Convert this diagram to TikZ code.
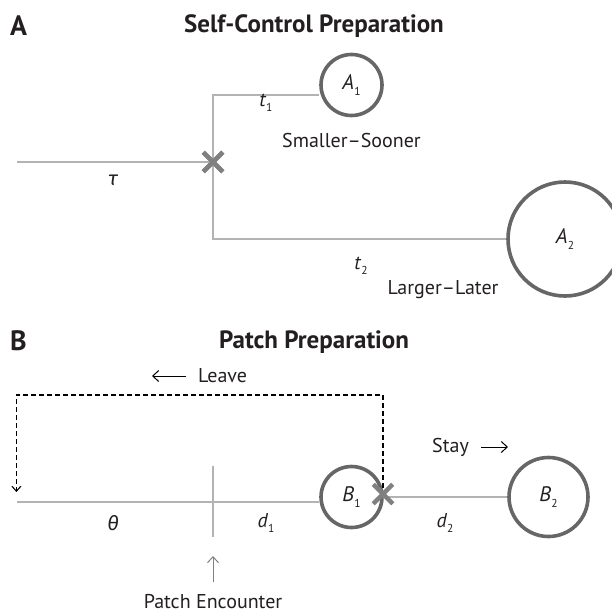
\documentclass[tikz,border=0pt]{standalone}
\usepackage{fontspec}
\setmainfont{PT Sans}
\newfontfamily\greekf{Fira Sans}
\usetikzlibrary{shapes.misc,arrows.meta}
\definecolor{linegray}{HTML}{B3B3B3}
\definecolor{circgray}{HTML}{666666}
\definecolor{xgray}{HTML}{808080}
\definecolor{ink}{HTML}{231F20}
\newcommand\lbl[2]{{\itshape #1}\kern0.5pt\raisebox{-0.55ex}{\fontsize{11.5}{11.5}\selectfont #2}}
\tikzset{
  x=1pt, y=-1pt,
  thinline/.style={draw=linegray, line width=2pt},
  choice/.style={circle, draw=circgray, line width=3.6pt, inner sep=0pt, text=ink, font=\fontsize{21}{21}\selectfont},
  xmark/.style={cross out, draw=xgray, line width=4.5pt, minimum size=15pt, inner sep=0pt},
  txt/.style={text=ink, font=\fontsize{20}{20}\selectfont, inner sep=0pt},
  ttl/.style={text=ink, font=\bfseries\fontsize{25}{25}\selectfont, inner sep=0pt},
  panel/.style={text=ink, font=\bfseries\fontsize{28}{28}\selectfont, inner sep=0pt, anchor=west},
  dash line/.style={draw=black, line width=1.4pt, dash pattern=on 5pt off 3pt},
  arr/.style={line width=1pt, -{Straight Barb[length=6pt,width=11pt,line width=1pt]}},
}
\begin{document}
\begin{tikzpicture}
\useasboundingbox (0,0) rectangle (612,613);
\fill[white] (0,0) rectangle (612,613);
\clip (0,0) rectangle (612,613);
% ---------- Panel A ----------
\node[panel] (pa) at (10,26) {A};
\node[ttl] (ta) at (314,26) {Self-Control Preparation};
\node[choice, minimum size=61pt] (A1) at (351.5,85) {\lbl{A}{1}};
\node[choice, minimum size=114pt] (A2) at (565,239) {\lbl{A}{2}};
\coordinate (tauS) at (17,162);
\coordinate (tl) at (213,94.5);
\node[xmark] (xa) at (213,162) {};
\draw[thinline] (tauS) -- (xa.center);
\draw[thinline] (A1.west |- tl) -- (tl) |- (A2.west);
\node[xmark] at (213,162) {};
\node[txt] (tau) at (113,180) {{\greekf\itshape τ}};
\node[txt] (t1) at (266,103) {\lbl{t}{1}};
\node[txt] (ss) at (351.5,140) {Smaller–Sooner};
\node[txt] (t2) at (361,266) {\lbl{t}{2}};
\node[txt] (ll) at (443,290) {Larger–Later};
% ---------- Panel B ----------
\node[panel] (pb) at (10,341) {B};
\node[ttl] (tb) at (314,342) {Patch Preparation};
\node[choice, minimum size=61pt] (B1) at (351.5,497) {\lbl{B}{1}};
\node[choice, minimum size=79pt] (B2) at (548.5,497) {\lbl{B}{2}};
\coordinate (bS) at (17,501.7);
\draw[thinline] (bS) -- (bS -| B1.west);
\coordinate (tickT) at (213,465.7);
\coordinate (tickB) at (213,537);
\draw[thinline] (tickT) -- (tickB);
\coordinate (xbpos) at (383,494);
\draw[thinline] (xbpos |- B2.west) -- (B2.west);
\coordinate (dtr) at (383,395);
\coordinate (dtl) at (16.4,395);
\coordinate (dend) at (16.4,492);
\draw[dash line, -{Straight Barb[length=5pt,width=9pt,line width=1.1pt]}] (383,488) -- (dtr) -- (dtl) -- (dend);
\node[xmark] (xb) at (xbpos) {};
\node[txt] (theta) at (113,523) {{\greekf\itshape θ}};
\node[txt] (d1) at (266,523) {\lbl{d}{1}};
\node[txt] (d2) at (445,523) {\lbl{d}{2}};
\node[txt] (leave) at (222.6,376) {Leave};
\coordinate (lvA) at (186,376);
\coordinate (lvB) at (152,376);
\draw[arr] (lvA) -- (lvB);
\node[txt] (stay) at (450.5,447) {Stay};
\coordinate (stA) at (481,447);
\coordinate (stB) at (508,447);
\draw[arr] (stA) -- (stB);
\coordinate (peA) at (213,582);
\coordinate (peB) at (213,556);
\draw[arr, draw=xgray] (peA) -- (peB);
\node[txt] (pe) at (213,602) {Patch Encounter};
\end{tikzpicture}
\end{document}
